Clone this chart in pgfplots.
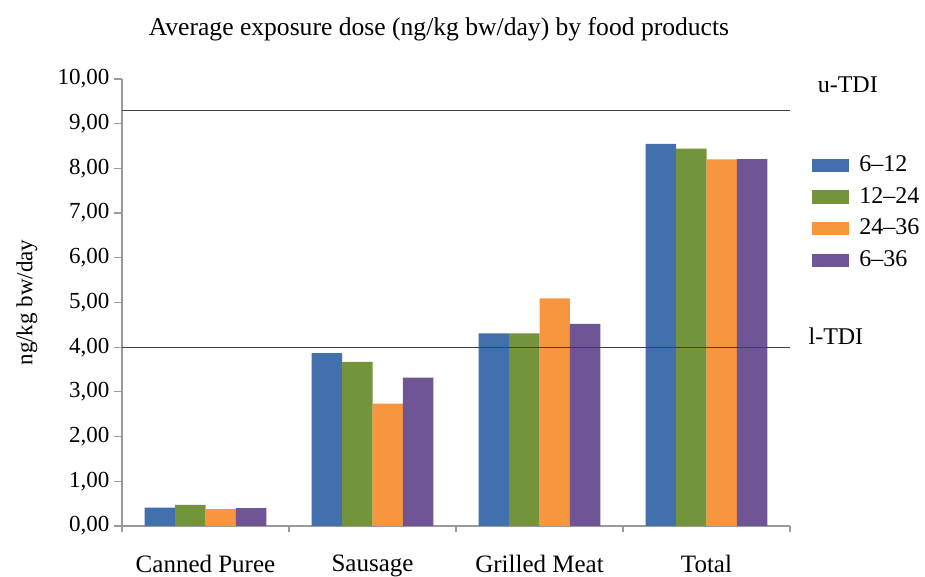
\documentclass[border=0pt]{standalone}
\usepackage{pgfplots}
\pgfplotsset{compat=1.18}
\usepackage{fontspec}
\setmainfont{Liberation Serif}
\definecolor{cblue}{HTML}{4170AC}
\definecolor{cgreen}{HTML}{73943A}
\definecolor{corange}{HTML}{F7963F}
\definecolor{cpurple}{HTML}{6F5596}
\definecolor{axgray}{HTML}{9A9A9A}
\begin{document}
\begin{tikzpicture}[x=1pt,y=1pt]
\fontsize{11}{13}\selectfont
\path[use as bounding box] (-61pt,-25.5pt) rectangle (401.5pt,263pt);
\begin{axis}[
  at={(0pt,0pt)}, anchor=south west,
  scale only axis, width=334pt, height=223.5pt,
  ymin=0, ymax=10, xmin=-0.5, xmax=3.5,
  bar width=15.2pt,
  axis x line*=bottom, axis y line*=left,
  axis line style={axgray, line width=0.6pt},
  xtick={0,1,2,3},
  xticklabels={Canned Puree, Sausage, Grilled Meat, Total},
  minor xtick={-0.5,0.5,1.5,2.5,3.5},
  major x tick style={draw=none},
  minor tick length=3pt,
  ytick={0,1,...,10},
  major tick length=4pt,
  tick align=outside,
  tick style={axgray, line width=0.6pt},
  xticklabel style={font=\fontsize{12.5}{14}\selectfont, yshift=-6.5pt},
  yticklabel style={font=\fontsize{11.5}{13}\selectfont, xshift=1.5pt},
  /pgf/number format/.cd, fixed, fixed zerofill, precision=2, use comma, assume math mode=true,
  /pgfplots/.cd,
  ylabel={ng/kg bw/day},
  ylabel style={font=\fontsize{11.5}{13}\selectfont, yshift=2.5pt},
  title={Average exposure dose (ng/kg bw/day) by food products},
  title style={font=\fontsize{12.8}{14}\selectfont, yshift=9pt, xshift=-8.5pt},
  clip=false,
  legend style={at={(1.033,0.838)}, anchor=north west, draw=none, fill=none,
    font=\fontsize{12}{14}\selectfont, row sep=2.2pt, inner sep=0pt,
    /tikz/every odd column/.append style={column sep=3pt}},
  legend cell align=left,
  legend image code/.code={\fill[#1] (0pt,-3.3pt) rectangle (18.5pt,3.3pt);},
]
\addplot[ybar, bar shift=-22.8pt, fill=cblue, draw=none] coordinates {(0,0.41) (1,3.87) (2,4.31) (3,8.55)};
\addplot[ybar, bar shift=-7.6pt, fill=cgreen, draw=none] coordinates {(0,0.47) (1,3.67) (2,4.31) (3,8.44)};
\addplot[ybar, bar shift=7.6pt, fill=corange, draw=none] coordinates {(0,0.38) (1,2.74) (2,5.09) (3,8.20)};
\addplot[ybar, bar shift=22.8pt, fill=cpurple, draw=none] coordinates {(0,0.40) (1,3.32) (2,4.52) (3,8.21)};
\legend{6--12, 12--24, 24--36, 6--36}
\addplot[sharp plot, draw=black!75, line width=0.6pt, forget plot] coordinates {(-0.5,9.3) (3.5,9.3)};
\addplot[sharp plot, draw=black!75, line width=0.6pt, forget plot] coordinates {(-0.5,4.0) (3.5,4.0)};
\node[anchor=west, font=\fontsize{12}{14}\selectfont] at (axis cs:3.62,9.86) {u-TDI};
\node[anchor=west, font=\fontsize{12}{14}\selectfont] at (axis cs:3.565,4.25) {l-TDI};
\end{axis}
\end{tikzpicture}
\end{document}
